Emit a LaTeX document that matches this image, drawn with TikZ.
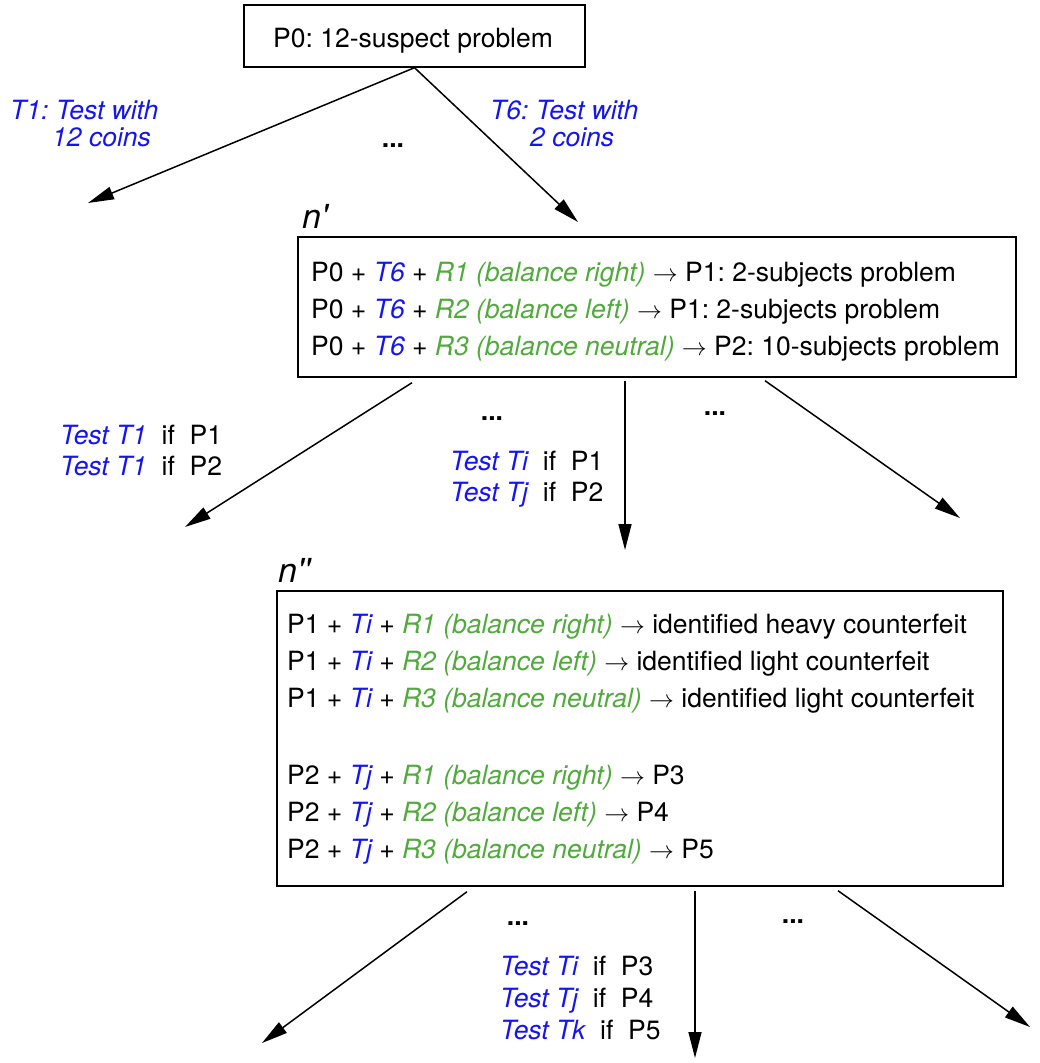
\documentclass[tikz,border=0pt]{standalone}
\usepackage{fontspec}
\setmainfont{TeX Gyre Heros}
\newfontfamily\primefont{TeX Gyre Heros}[Ligatures=TeXOff]
\usetikzlibrary{arrows.meta}
\definecolor{tblue}{RGB}{20,20,240}
\definecolor{rgreen}{RGB}{80,170,60}
\newcommand\mytest[1]{\textcolor{tblue}{\itshape #1}}
\newcommand\myres[1]{\textcolor{rgreen}{\itshape #1}}
\newcommand\myto{$\rightarrow$}
\frenchspacing
\tikzset{
  box/.style={draw, line width=1.4pt, rectangle, inner sep=0pt},
  arr/.style={line width=1.5pt, -{Triangle[length=26pt,width=13pt]}},
  txt/.style={anchor=base west, inner sep=0pt, font=\fontsize{26.5}{31}\selectfont},
  lbl/.style={anchor=base west, inner sep=0pt, text=tblue, font=\fontsize{26.5}{31}\selectfont\itshape},
  dotsty/.style={anchor=base, inner sep=0pt, font=\fontsize{26.5}{31}\selectfont\bfseries},
  nlabel/.style={anchor=base west, inner sep=0pt, font=\fontsize{34}{40}\selectfont\primefont\itshape},
}
\begin{document}
\begin{tikzpicture}[x=1pt,y=-1pt]
\useasboundingbox (0,0) rectangle (1039,1063);

% top box
\node[box, minimum width=341pt, minimum height=62pt] (p0) at (414.5,36) {};
\node[txt] (p0t) at (273,47) {P0: 12-suspect problem};

\node[lbl] (l1a) at (10,119) {T1: Test with};
\node[lbl] (l1b) at (52,146) {12 coins};
\node[lbl] (l6a) at (490,119) {T6: Test with};
\node[lbl] (l6b) at (530,146) {2 coins};
\node[dotsty] (d1) at (393,147) {...};

\coordinate (e11) at (88,203);
\coordinate (e12) at (578,222);
\draw[arr] (p0.south) -- (e11);
\draw[arr] (p0.south) -- (e12);

% n' box
\node[nlabel] (n1lab) at (302,228) {n'};
\node[box, minimum width=718pt, minimum height=140pt] (n1) at (657,307) {};
\node[txt] (n1l1) at (311,281) {P0 + \mytest{T6} + \myres{R1 (balance right)} \myto\ P1: 2-subjects problem};
\node[txt] (n1l2) at (311,318) {P0 + \mytest{T6} + \myres{R2 (balance left)} \myto\ P1: 2-subjects problem};
\node[txt] (n1l3) at (311,355) {P0 + \mytest{T6} + \myres{R3 (balance neutral)} \myto\ P2: 10-subjects problem};

\coordinate (e21) at (185,527);
\coordinate (e22) at (625,550);
\coordinate (e23) at (960,518);
\draw[arr] ([xshift=-245pt,yshift=-5pt]n1.south) -- (e21);
\draw[arr] ([xshift=-32pt,yshift=-3pt]n1.south) -- (e22);
\draw[arr] ([xshift=108pt,yshift=-3pt]n1.south) -- (e23);

\node[txt] (t21a) at (60,444) {\mytest{Test T1}\ \ if\ \ P1};
\node[txt] (t21b) at (60,475) {\mytest{Test T1}\ \ if\ \ P2};
\node[txt] (t22a) at (450,470) {\mytest{Test Ti}\ \ if\ \ P1};
\node[txt] (t22b) at (450,501) {\mytest{Test Tj}\ \ if\ \ P2};
\node[dotsty] (d2) at (492,420) {...};
\node[dotsty] (d3) at (715,415) {...};

% n'' box
\node[nlabel] (n2lab) at (278,582) {n''};
\node[box, minimum width=726pt, minimum height=295pt] (n2) at (640,738.5) {};
\node[txt] (n2l1) at (287,633) {P1 + \mytest{Ti} + \myres{R1 (balance right)} \myto\ identified heavy counterfeit};
\node[txt] (n2l2) at (287,670) {P1 + \mytest{Ti} + \myres{R2 (balance left)} \myto\ identified light counterfeit};
\node[txt] (n2l3) at (287,707) {P1 + \mytest{Ti} + \myres{R3 (balance neutral)} \myto\ identified light counterfeit};
\node[txt] (n2l4) at (287,784) {P2 + \mytest{Tj} + \myres{R1 (balance right)} \myto\ P3};
\node[txt] (n2l5) at (287,821) {P2 + \mytest{Tj} + \myres{R2 (balance left)} \myto\ P4};
\node[txt] (n2l6) at (287,858) {P2 + \mytest{Tj} + \myres{R3 (balance neutral)} \myto\ P5};

\coordinate (e31) at (262,1043);
\coordinate (e32) at (695,1058);
\coordinate (e33) at (1030,1027);
\draw[arr] ([xshift=-173pt,yshift=-5pt]n2.south) -- (e31);
\draw[arr] ([xshift=55pt,yshift=-4pt]n2.south) -- (e32);
\draw[arr] ([xshift=198pt,yshift=-4pt]n2.south) -- (e33);

\node[dotsty] (d4) at (518,925) {...};
\node[dotsty] (d5) at (793,923) {...};
\node[txt] (t3a) at (500,975) {\mytest{Test Ti}\ \ if\ \ P3};
\node[txt] (t3b) at (500,1007) {\mytest{Test Tj}\ \ if\ \ P4};
\node[txt] (t3c) at (500,1039) {\mytest{Test Tk}\ \ if\ \ P5};
\end{tikzpicture}
\end{document}
